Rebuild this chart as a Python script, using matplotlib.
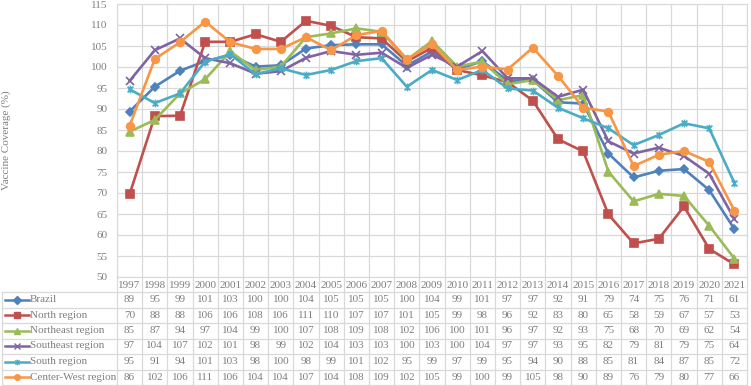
import numpy as np
import matplotlib
matplotlib.use("Agg")
import matplotlib.pyplot as plt
from matplotlib.lines import Line2D
from matplotlib.path import Path
from matplotlib.transforms import blended_transform_factory

# data (table shows the rounded values)
years = list(range(1997, 2022))
brazil = [89.4, 95.3, 99.1, 101.4, 102.8, 100.1, 100.4, 104.4, 105.2, 105.4, 105.4, 100.3, 103.7,
          99.4, 101.4, 96.7, 96.9, 91.6, 91.3, 79.4, 73.7, 75.3, 75.7, 70.7, 61.4]
north = [69.7, 88.3, 88.4, 106.0, 106.0, 107.8, 106.0, 111.0, 109.8, 107.1, 106.8, 101.3, 104.6,
         99.3, 98.0, 96.4, 92.0, 82.8, 79.9, 64.9, 58.0, 59.1, 66.8, 56.7, 53.0]
northeast = [84.6, 87.4, 93.7, 97.1, 103.7, 99.3, 100.1, 107.1, 108.0, 109.2, 108.4, 101.7, 106.2,
             100.1, 101.3, 95.9, 96.9, 92.1, 93.3, 75.1, 68.0, 69.8, 69.3, 62.2, 54.4]
southeast = [96.7, 104.0, 106.8, 102.1, 100.9, 98.4, 99.0, 102.2, 103.8, 102.9, 103.4, 99.8, 102.9,
             100.1, 103.8, 97.3, 97.3, 92.9, 94.6, 82.3, 79.4, 80.8, 78.8, 74.6, 63.8]
south = [94.7, 91.4, 93.7, 101.3, 103.0, 98.3, 99.7, 98.1, 99.3, 101.4, 102.1, 95.3, 99.3,
         96.9, 99.3, 94.9, 94.4, 90.3, 87.8, 85.4, 81.4, 83.8, 86.6, 85.4, 72.4]
centerwest = [86.0, 101.9, 105.9, 110.8, 105.9, 104.3, 104.3, 107.1, 104.0, 107.6, 108.6, 101.9, 105.4,
              99.3, 100.1, 99.4, 104.6, 97.9, 90.3, 89.4, 76.4, 79.1, 80.0, 77.4, 65.8]
names = ["Brazil", "North region", "Northeast region", "Southeast region", "South region", "Center-West region"]

# excel style star marker (x with a vertical bar)
star = Path([(-1, -1), (1, 1), (-1, 1), (1, -1), (0, -1.3), (0, 1.3)],
            [Path.MOVETO, Path.LINETO] * 3)

series = [brazil, north, northeast, southeast, south, centerwest]
colors = ["#4F81BD", "#C0504D", "#9BBB59", "#8064A2", "#4BACC6", "#F79646"]
markers = ["D", "s", "^", "x", star, "o"]
msizes = [4.5, 5.5, 5.5, 5.5, 5.5, 5.5]

W, H = 751, 386
fx = lambda px: px / W
fy = lambda px: 1 - px / H

plt.rcParams['font.family'] = ['Liberation Serif', 'DejaVu Serif']
txt = "#7F7F7F"
grid = "#D9D9D9"
fs = 8

fig = plt.figure(figsize=(W / 100, H / 100), dpi=100)
ax = fig.add_axes([fx(117), fy(277), (747 - 117) / W, (277 - 4) / H])
x = np.arange(len(years))

for s, c, m, ms in zip(series, colors, markers, msizes):
    ax.plot(x, s, color=c, lw=1.9, marker=m, ms=ms, mfc=c, mec=c, mew=1.2)

ax.set_xlim(-0.5, len(years) - 0.5)
ax.set_ylim(50, 115)
ax.set_yticks(range(50, 116, 5))
ax.set_xticks(np.arange(-0.5, len(years), 1))
ax.set_xticklabels([])
ax.grid(True, color=grid, lw=0.9)
ax.set_axisbelow(True)
ax.tick_params(axis='y', length=0, pad=7, labelsize=fs, labelcolor=txt)
ax.tick_params(axis='x', length=0)
for sp in ax.spines.values():
    sp.set_color(grid)

fig.text(fx(6), fy(140), "Vaccine Coverage (%)", rotation=90, ha='center', va='center',
         fontsize=fs, color=txt)

# data table below the plot
tr = blended_transform_factory(ax.transData, fig.transFigure)
row_y = [285, 299.5, 315, 330.5, 346, 361.5, 377]
row_lines = [292, 307.5, 323, 338.5, 354, 369.5, 385]

for i, yr in enumerate(years):
    fig.text(i, fy(row_y[0]), str(yr), transform=tr, ha='center', va='center', fontsize=fs, color=txt)
    for r, s in enumerate(series):
        fig.text(i, fy(row_y[r + 1]), str(int(round(s[i]))), transform=tr, ha='center', va='center',
                 fontsize=fs, color=txt)

for i in range(len(years) + 1):
    fig.add_artist(Line2D([i - 0.5, i - 0.5], [fy(277), fy(385)], transform=tr, color=grid, lw=0.9))
fig.add_artist(Line2D([fx(2), fx(2)], [fy(292), fy(385)], transform=fig.transFigure, color=grid, lw=0.9))
for yl in row_lines:
    fig.add_artist(Line2D([fx(2), fx(747)], [fy(yl), fy(yl)], transform=fig.transFigure, color=grid, lw=0.9))

for r, (nm, c, m) in enumerate(zip(names, colors, markers)):
    yy = fy(row_y[r + 1])
    fig.add_artist(Line2D([fx(5), fx(17), fx(29)], [yy, yy, yy], transform=fig.transFigure, color=c,
                          lw=1.8, marker=m, ms=4, mfc=c, mec=c, mew=1.0, markevery=[1]))
    fig.text(fx(30), yy, nm, ha='left', va='center', fontsize=fs, color=txt)

fig.savefig("out.png", dpi=100)
